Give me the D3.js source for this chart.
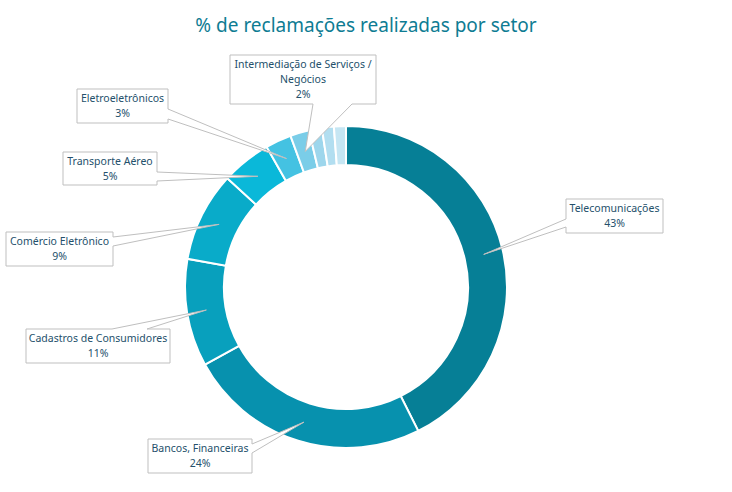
<!DOCTYPE html>
<html>
<head>
<meta charset="utf-8">
<script src="https://cdn.jsdelivr.net/npm/d3@7"></script>
<style>
  body { margin: 0; background: #fff; }
  svg { display: block; font-family: "Noto Sans", sans-serif; }
</style>
</head>
<body>
<svg id="chart" width="732" height="492"></svg>
<script>
// data (shares in %)
var sectors = ["Telecomunicações", "Bancos, Financeiras", "Cadastros de Consumidores",
               "Comércio Eletrônico", "Transporte Aéreo", "Eletroeletrônicos",
               "Intermediação de Serviços / Negócios", "Outros 1", "Outros 2", "Outros 3"];
var shares = [42.6, 24.4, 10.8, 9.0, 5.0, 2.6, 1.9, 1.3, 1.2, 1.2];
var colors = ["#067f96", "#0791ae", "#08a0bd", "#09abc9", "#0ab8d9",
              "#44c2e2", "#7acde8", "#9dd6ec", "#b2def0", "#c6e6f3"];

// callout boxes: label lines, box rect, and pointer base on one edge
var callouts = [
  { i: 0, lines: ["Telecomunicações"], x: 566, y: 199, w: 97, h: 34, side: "left", a: 20, b: 28 },
  { i: 1, lines: ["Bancos, Financeiras"], x: 148, y: 439, w: 104, h: 34, side: "right", a: 5, b: 14 },
  { i: 2, lines: ["Cadastros de Consumidores"], x: 26, y: 329, w: 144, h: 34, side: "top", a: 86, b: 121 },
  { i: 3, lines: ["Comércio Eletrônico"], x: 6, y: 232, w: 107, h: 34, side: "right", a: 5, b: 14 },
  { i: 4, lines: ["Transporte Aéreo"], x: 63, y: 152, w: 94, h: 33, side: "right", a: 20, b: 29 },
  { i: 5, lines: ["Eletroeletrônicos"], x: 77, y: 89, w: 91, h: 34, side: "right", a: 20, b: 30 },
  { i: 6, lines: ["Intermediação de Serviços /", "Negócios"], x: 230, y: 55, w: 146, h: 49, side: "bottom", a: 83, b: 122 }
];

var svg = d3.select("#chart");
var cx = 346, cy = 287, outerR = 161, innerR = 122;

svg.append("text")
  .attr("x", 366).attr("y", 32)
  .attr("text-anchor", "middle")
  .attr("fill", "#0e7c93")
  .style("font-size", "19px")
  .text("% de reclamações realizadas por setor");

var pie = d3.pie().sort(null).value(function(d) { return d; });
var arc = d3.arc().innerRadius(innerR).outerRadius(outerR);
var arcs = pie(shares);

var g = svg.append("g").attr("transform", "translate(" + cx + "," + cy + ")");

g.selectAll("path.slice")
  .data(arcs)
  .enter().append("path")
  .attr("class", "slice")
  .attr("d", arc)
  .attr("fill", function(d, i) { return colors[i]; })
  .attr("stroke", "#fff")
  .attr("stroke-width", 2);

// callouts: rectangle + wedge pointing to slice centroid
callouts.forEach(function(c) {
  var cen = arc.centroid(arcs[c.i]);
  var tx = cx + cen[0], ty = cy + cen[1];
  var x0 = c.x, y0 = c.y, x1 = c.x + c.w, y1 = c.y + c.h;
  var pts;
  if (c.side === "left") {
    pts = [[x0, y0], [x1, y0], [x1, y1], [x0, y1], [x0, y0 + c.b], [tx, ty], [x0, y0 + c.a]];
  } else if (c.side === "right") {
    pts = [[x0, y0], [x1, y0], [x1, y0 + c.a], [tx, ty], [x1, y0 + c.b], [x1, y1], [x0, y1]];
  } else if (c.side === "top") {
    pts = [[x0, y0], [x0 + c.a, y0], [tx, ty], [x0 + c.b, y0], [x1, y0], [x1, y1], [x0, y1]];
  } else {
    pts = [[x0, y0], [x1, y0], [x1, y1], [x0 + c.b, y1], [tx, ty], [x0 + c.a, y1], [x0, y1]];
  }
  svg.append("path")
    .attr("d", d3.line()(pts) + "Z")
    .attr("fill", "#fff")
    .attr("stroke", "#bfbfbf")
    .attr("stroke-width", 1);

  var lines = c.lines.concat([Math.round(shares[c.i]) + "%"]);
  var lh = 15;
  var top = y0 + c.h / 2 - (lines.length - 1) * lh / 2;
  var t = svg.append("text")
    .attr("text-anchor", "middle")
    .attr("fill", "#24506b")
    .style("font-size", "10.5px");
  lines.forEach(function(s, k) {
    t.append("tspan")
      .attr("x", x0 + c.w / 2)
      .attr("y", top + k * lh)
      .attr("dy", "0.35em")
      .text(s);
  });
});
</script>
</body>
</html>
